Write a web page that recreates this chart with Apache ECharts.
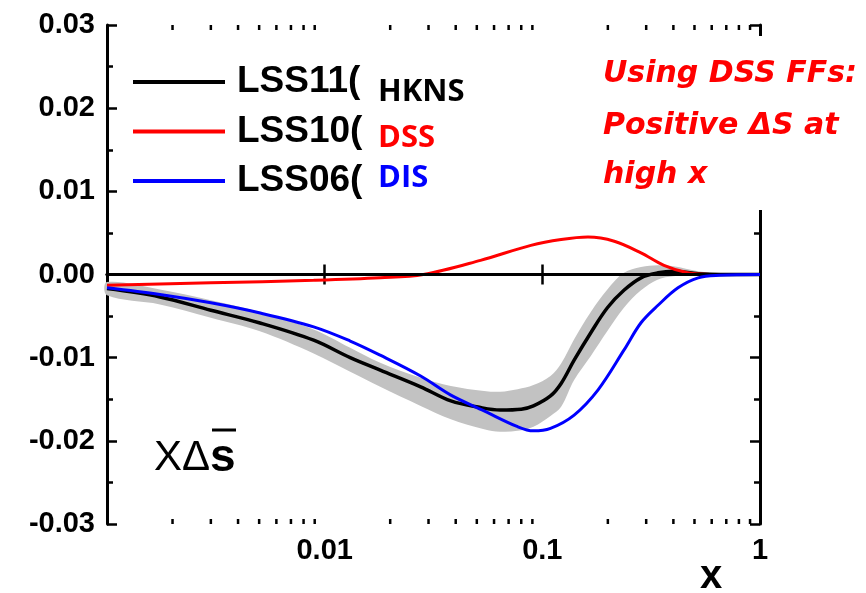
<!DOCTYPE html>
<html>
<head>
<meta charset="utf-8">
<script src="https://cdn.jsdelivr.net/npm/echarts@6/dist/echarts.min.js"></script>
<style>
  html, body { margin: 0; padding: 0; background: #fff; }
  #chart { width: 866px; height: 593px; }
</style>
</head>
<body>
<div id="chart"></div>
<script>
// x Δs̄ at Q² — LSS fits with different fragmentation inputs

// LSS11 (HKNS) central curve
const lss11X = [0.001, 0.00175, 0.003, 0.005, 0.0089, 0.0131, 0.018, 0.0276, 0.038, 0.052, 0.064, 0.080, 0.091, 0.109, 0.122, 0.14, 0.167, 0.199, 0.237, 0.284, 0.34, 0.40, 0.52, 0.66, 1.0];
const lss11Y = [-0.0017, -0.0027, -0.0043, -0.0058, -0.0079, -0.0100, -0.0115, -0.0135, -0.0152, -0.0160, -0.0163, -0.0162, -0.0158, -0.0146, -0.0131, -0.0103, -0.0070, -0.0040, -0.0019, -0.0004, 0.0002, 0.0004, 0.0001, 0.0, 0.0];

// LSS11 uncertainty band
const bandX    = [0.001, 0.00175, 0.003, 0.005, 0.0089, 0.0131, 0.018, 0.0276, 0.038, 0.054, 0.064, 0.077, 0.091, 0.109, 0.122, 0.14, 0.167, 0.199, 0.237, 0.284, 0.34, 0.40, 0.52, 0.66, 1.0];
const bandLow  = [-0.0025, -0.0036, -0.0052, -0.0068, -0.0095, -0.0117, -0.0135, -0.0158, -0.0174, -0.0186, -0.0189, -0.0188, -0.0183, -0.0170, -0.0159, -0.0127, -0.0098, -0.0068, -0.0040, -0.0019, -0.0006, -0.0002, 0.0, 0.0, 0.0];
const bandHigh = [-0.0009, -0.0018, -0.0031, -0.0045, -0.0066, -0.0088, -0.0106, -0.0124, -0.0134, -0.0140, -0.0141, -0.0138, -0.0133, -0.0122, -0.0107, -0.0078, -0.0045, -0.0018, 0.0002, 0.0009, 0.0011, 0.0010, 0.0004, 0.0001, 0.0];

// LSS10 (DSS)
const lss10X = [0.001, 0.003, 0.0089, 0.018, 0.0284, 0.052, 0.0886, 0.122, 0.162, 0.214, 0.284, 0.362, 0.465, 0.59, 1.0];
const lss10Y = [-0.0013, -0.0010, -0.0007, -0.0004, 0.0, 0.0017, 0.0035, 0.0042, 0.0045, 0.0040, 0.0026, 0.0011, 0.0002, 0.0, 0.0];

// LSS06 (DIS)
const lss06X = [0.001, 0.00175, 0.003, 0.005, 0.0089, 0.0131, 0.018, 0.0276, 0.038, 0.054, 0.077, 0.091, 0.109, 0.14, 0.18, 0.237, 0.284, 0.34, 0.42, 0.52, 0.65, 1.0];
const lss06Y = [-0.0016, -0.0024, -0.0034, -0.0046, -0.0063, -0.0080, -0.0097, -0.0122, -0.0145, -0.0164, -0.0183, -0.0188, -0.0185, -0.0169, -0.0139, -0.0091, -0.0058, -0.0037, -0.0016, -0.0004, -0.0001, 0.0];

// axis ranges and log minor tick positions
const xMin = 0.001, xMax = 1;
const yMin = -0.03, yMax = 0.03, yStep = 0.01;
const xMinorTicks = [0.002, 0.003, 0.004, 0.005, 0.006, 0.007, 0.008, 0.009,
                     0.02, 0.03, 0.04, 0.05, 0.06, 0.07, 0.08, 0.09,
                     0.2, 0.3, 0.4, 0.5, 0.6, 0.7, 0.8, 0.9];
const legendNames = ['LSS11(', 'LSS10(', 'LSS06('];
const legendTags = ['HKNS', 'DSS', 'DIS'];
const noteLines = ['Using DSS FFs:', 'Positive \u0394S at', 'high x'];

const zip = (xs, ys) => xs.map((x, i) => [x, ys[i]]);

const AXIS_FONT = 'Liberation Sans, Arial, sans-serif';
const TAG_FONT = 'Open Sans, Noto Sans, sans-serif';
const NOTE_FONT = 'DejaVu Sans, sans-serif';

const chart = echarts.init(document.getElementById('chart'), null, { renderer: 'canvas' });

const axisLine = { show: true, lineStyle: { color: '#000', width: 3 } };
const majorTick = { show: true, inside: true, length: 10, lineStyle: { color: '#000', width: 2.5 } };
const minorTickY = { show: true, splitNumber: 2, length: 6, lineStyle: { color: '#000', width: 2.5 } };

const xLabel = v => {
  if (v < 0.005) return '';
  if (v >= 0.999) return '1';
  return String(+v.toPrecision(1));
};

const SMOOTH = 0.35;

const option = {
  backgroundColor: '#fff',
  animation: false,
  grid: { left: 107, right: 106, top: 25, bottom: 69, containLabel: false },
  xAxis: [
    {
      type: 'log', logBase: 10, min: xMin, max: xMax, position: 'bottom',
      axisLine, axisTick: majorTick, splitLine: { show: false },
      axisLabel: { formatter: xLabel, color: '#000', fontSize: 29, fontWeight: 'bold', fontFamily: AXIS_FONT, margin: 12 }
    },
    {
      type: 'log', logBase: 10, min: xMin, max: xMax, position: 'top',
      axisLine, axisTick: majorTick, splitLine: { show: false },
      axisLabel: { show: false }
    }
  ],
  yAxis: [
    {
      type: 'value', min: yMin, max: yMax, interval: yStep, position: 'left',
      axisLine, axisTick: majorTick, minorTick: minorTickY, splitLine: { show: false },
      axisLabel: { formatter: v => v.toFixed(2), color: '#000', fontSize: 29, fontWeight: 'bold', fontFamily: AXIS_FONT, margin: 12 }
    },
    {
      type: 'value', min: yMin, max: yMax, interval: yStep, position: 'right',
      axisLine, axisTick: majorTick, minorTick: minorTickY, splitLine: { show: false },
      axisLabel: { show: false }
    }
  ],
  legend: {
    orient: 'vertical', left: 133, top: 62, padding: 0,
    icon: 'rect', itemWidth: 92, itemHeight: 4, itemGap: 9.5,
    selectedMode: false,
    data: legendNames,
    textStyle: { fontSize: 37, fontWeight: 'bold', fontFamily: AXIS_FONT, color: '#000', lineHeight: 40, padding: [0, 0, 0, 7] }
  },
  series: [
    {
      // uncertainty band as one filled outline: upper edge forward, lower edge back
      name: 'band', type: 'custom', silent: true, z: 1,
      data: [[xMin, 0]],
      encode: { x: 0, y: 1 },
      renderItem: (params, api) => {
        const upper = bandX.map((x, i) => api.coord([x, bandHigh[i]]));
        const lower = bandX.map((x, i) => api.coord([x, bandLow[i]])).reverse();
        return {
          type: 'polygon',
          shape: { points: upper.concat(lower), smooth: SMOOTH },
          style: { fill: '#c2c2c2', stroke: null }
        };
      }
    },
    {
      name: legendNames[0], type: 'line', data: zip(lss11X, lss11Y),
      smooth: SMOOTH, symbol: 'none', color: '#000',
      lineStyle: { color: '#000', width: 3.5 }, z: 3,
      markLine: {
        silent: true, symbol: ['none', 'none'], label: { show: false },
        lineStyle: { color: '#000', width: 3, type: 'solid' },
        data: [{ yAxis: 0 }]
      }
    },
    {
      name: legendNames[1], type: 'line', data: zip(lss10X, lss10Y),
      smooth: SMOOTH, symbol: 'none', color: '#ff0000',
      lineStyle: { color: '#ff0000', width: 3 }, z: 4
    },
    {
      name: legendNames[2], type: 'line', data: zip(lss06X, lss06Y),
      smooth: SMOOTH, symbol: 'none', color: '#0000ff',
      lineStyle: { color: '#0000ff', width: 3 }, z: 5
    },
    {
      // log-axis minor ticks on the bottom and top frame
      name: 'minor-ticks', type: 'custom', silent: true, clip: false, z: 6,
      data: xMinorTicks.map(v => [v, 0]),
      encode: { x: 0, y: 1 },
      renderItem: (params, api) => {
        const x = api.value(0);
        const b = api.coord([x, yMin]);
        const t = api.coord([x, yMax]);
        const st = { stroke: '#000', lineWidth: 2.5 };
        return {
          type: 'group',
          children: [
            { type: 'line', shape: { x1: b[0], y1: b[1], x2: b[0], y2: b[1] - 5 }, style: st },
            { type: 'line', shape: { x1: t[0], y1: t[1], x2: t[0], y2: t[1] + 5 }, style: st }
          ]
        };
      }
    }
  ],
  graphic: [
    // legend source tags
    { type: 'text', left: 378, top: 77, z: 50, style: { text: legendTags[0], fill: '#000', font: 'bold 31px ' + TAG_FONT } },
    { type: 'text', left: 378, top: 123, z: 50, style: { text: legendTags[1], fill: '#ff0000', font: 'bold 31px ' + TAG_FONT } },
    { type: 'text', left: 378, top: 163, z: 50, style: { text: legendTags[2], fill: '#0000ff', font: 'bold 31px ' + TAG_FONT } },
    // note panel
    { type: 'rect', shape: { x: 594, y: 36, width: 272, height: 174 }, style: { fill: '#fff' }, z: 40 },
    { type: 'text', x: 603, y: 74, z: 50, style: { text: noteLines[0], fill: '#ff0000', font: 'oblique bold 30px ' + NOTE_FONT, verticalAlign: 'middle' } },
    { type: 'text', x: 603, y: 126, z: 50, style: { text: noteLines[1], fill: '#ff0000', font: 'oblique bold 30px ' + NOTE_FONT, verticalAlign: 'middle' } },
    { type: 'text', x: 603, y: 175, z: 50, style: { text: noteLines[2], fill: '#ff0000', font: 'oblique bold 30px ' + NOTE_FONT, verticalAlign: 'middle' } },
    // quantity label x Δ s̄
    {
      type: 'text', x: 154, y: 458, z: 50,
      style: {
        text: '{a|X\u0394}{b|s}', verticalAlign: 'middle',
        rich: {
          a: { fontSize: 42, fontFamily: AXIS_FONT, fill: '#000' },
          b: { fontSize: 46, fontWeight: 'bold', fontFamily: AXIS_FONT, fill: '#000' }
        }
      }
    },
    { type: 'line', z: 50, shape: { x1: 212, y1: 430, x2: 236, y2: 430 }, style: { stroke: '#000', lineWidth: 3 } },
    // x-axis name
    { type: 'text', x: 711, y: 577, z: 50, style: { text: 'x', fill: '#000', font: 'bold 40px ' + AXIS_FONT, align: 'center', verticalAlign: 'middle' } }
  ]
};

chart.setOption(option);
</script>
</body>
</html>
